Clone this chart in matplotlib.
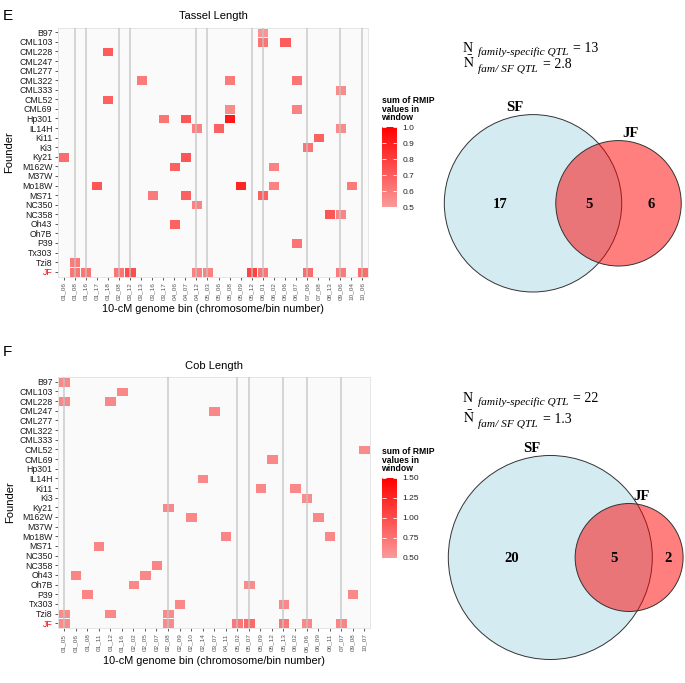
import numpy as np
import matplotlib
matplotlib.use("Agg")
import matplotlib.pyplot as plt
from matplotlib.colors import LinearSegmentedColormap, to_rgba
from matplotlib.patches import Circle

plt.rcParams['font.family'] = ['Liberation Sans', 'DejaVu Sans']

founders = ["B97", "CML103", "CML228", "CML247", "CML277", "CML322", "CML333",
            "CML52", "CML69", "Hp301", "IL14H", "Ki11", "Ki3", "Ky21", "M162W",
            "M37W", "Mo18W", "MS71", "NC350", "NC358", "Oh43", "Oh7B", "P39",
            "Tx303", "Tzi8", "JF"]

# Tassel length (panel E)
tassel_bins = ["01_06", "01_08", "01_16", "01_17", "01_18", "02_08", "03_12",
               "03_13", "03_16", "03_17", "04_06", "04_07", "04_12", "05_03",
               "05_06", "05_08", "05_09", "05_12", "06_01", "06_02", "06_06",
               "06_07", "07_06", "07_08", "08_13", "09_06", "10_04", "10_06"]
tassel_hits = [
    ("B97", "06_01", 0.52), ("CML103", "06_01", 0.62), ("CML103", "06_06", 0.70),
    ("CML228", "01_18", 0.70), ("CML322", "03_13", 0.60), ("CML322", "05_08", 0.60),
    ("CML322", "06_07", 0.62), ("CML333", "09_06", 0.55), ("CML52", "01_18", 0.68),
    ("CML69", "05_08", 0.55), ("CML69", "06_07", 0.58), ("Hp301", "03_17", 0.62),
    ("Hp301", "04_07", 0.72), ("Hp301", "05_08", 0.92), ("IL14H", "04_12", 0.58),
    ("IL14H", "05_06", 0.68), ("IL14H", "09_06", 0.55), ("Ki11", "07_08", 0.68),
    ("Ki3", "07_06", 0.62), ("Ky21", "01_06", 0.65), ("Ky21", "04_07", 0.72),
    ("M162W", "04_06", 0.68), ("M162W", "06_02", 0.58), ("Mo18W", "01_17", 0.72),
    ("Mo18W", "05_09", 0.88), ("Mo18W", "06_02", 0.58), ("Mo18W", "10_04", 0.60),
    ("MS71", "03_16", 0.60), ("MS71", "04_07", 0.68), ("MS71", "06_01", 0.68),
    ("NC350", "04_12", 0.58), ("NC358", "08_13", 0.72), ("NC358", "09_06", 0.57),
    ("Oh43", "04_06", 0.68), ("P39", "06_07", 0.62), ("Tzi8", "01_08", 0.60),
    ("JF", "01_08", 0.62), ("JF", "01_16", 0.62), ("JF", "02_08", 0.62),
    ("JF", "03_12", 0.75), ("JF", "04_12", 0.58), ("JF", "05_03", 0.58),
    ("JF", "05_12", 0.78), ("JF", "06_01", 0.62), ("JF", "07_06", 0.65),
    ("JF", "09_06", 0.60), ("JF", "10_06", 0.65)]
tassel_venn = [17, 5, 6]          # SF only, shared, JF only
tassel_n_specific = "13"
tassel_n_mean = "2.8"

# Cob length (panel F)
cob_bins = ["01_05", "01_06", "01_08", "01_11", "01_12", "01_16", "02_02", "02_05",
            "02_07", "02_08", "02_09", "02_10", "02_14", "03_07", "04_11", "05_02",
            "05_07", "05_09", "05_12", "05_13", "06_02", "06_06", "06_09", "06_11",
            "07_07", "09_08", "10_07"]
cob_hits = [
    ("B97", "01_05", 0.62), ("CML103", "01_16", 0.62), ("CML228", "01_05", 0.62),
    ("CML228", "01_12", 0.62), ("CML247", "03_07", 0.62), ("CML52", "10_07", 0.60),
    ("CML69", "05_12", 0.62), ("IL14H", "02_14", 0.62), ("Ki11", "05_09", 0.62),
    ("Ki11", "06_02", 0.62), ("Ki3", "06_06", 0.60), ("Ky21", "02_08", 0.62),
    ("M162W", "02_10", 0.62), ("M162W", "06_09", 0.62), ("Mo18W", "04_11", 0.64),
    ("Mo18W", "06_11", 0.62), ("MS71", "01_11", 0.64), ("NC358", "02_07", 0.64),
    ("Oh43", "01_06", 0.64), ("Oh43", "02_05", 0.62), ("Oh7B", "02_02", 0.62),
    ("Oh7B", "05_07", 0.60), ("P39", "01_08", 0.64), ("P39", "09_08", 0.62),
    ("Tx303", "02_09", 0.62), ("Tx303", "05_13", 0.62), ("Tzi8", "01_05", 0.60),
    ("Tzi8", "01_12", 0.62), ("Tzi8", "02_08", 0.60),
    ("JF", "01_05", 0.60), ("JF", "02_08", 0.60), ("JF", "05_02", 0.72),
    ("JF", "05_07", 0.82), ("JF", "05_13", 0.72), ("JF", "06_06", 0.62),
    ("JF", "07_07", 0.64)]
cob_venn = [20, 5, 2]
cob_n_specific = "22"
cob_n_mean = "1.3"

cmap = LinearSegmentedColormap.from_list("rmip", ["#FA9A9A", "#FF0000"])
W, H = 685, 683


def draw_heatmap(ax, cax, bins, hits, vmin, vmax, cticks, cfmt, title):
    grid = np.full((len(founders), len(bins)), np.nan)
    for f, b, v in hits:
        grid[founders.index(f), bins.index(b)] = v
    ax.set_facecolor("#FAFAFA")
    xe = np.arange(len(bins) + 1) - 0.5
    ye = np.arange(len(founders) + 1) - 0.5
    mesh = ax.pcolormesh(xe, ye, np.ma.masked_invalid(grid), cmap=cmap,
                         vmin=vmin, vmax=vmax, edgecolors="#FAFAFA", linewidth=0.5)
    # grey guide lines at bins with a joint-family QTL
    for f, b, v in hits:
        if f == "JF":
            ax.axvline(bins.index(b), color="#C4C4C4", lw=1.3, alpha=0.75, zorder=3)
    ax.set_xlim(-0.5, len(bins) - 0.5)
    ax.set_ylim(len(founders) - 0.5, -0.5)
    ax.set_xticks(range(len(bins)))
    ax.set_xticklabels(bins, rotation=90, fontsize=4.6, color="#555555")
    ax.set_yticks(range(len(founders)))
    ax.set_yticklabels(founders, fontsize=6.3, color="#1a1a1a")
    ax.get_yticklabels()[-1].set_color("#E8141B")
    ax.tick_params(length=2.5, width=0.6, color="#444444", pad=1.5)
    for s in ax.spines.values():
        s.set_color("#E2E2E2")
        s.set_linewidth(0.6)
    ax.set_title(title, fontsize=8, pad=6)
    ax.set_xlabel("10-cM genome bin (chromosome/bin number)", fontsize=7.8)
    ax.set_ylabel("Founder", fontsize=8)
    ax.yaxis.set_label_coords(-0.14, 0.5)
    ax.xaxis.set_label_coords(0.5, -0.112)

    cb = plt.colorbar(mesh, cax=cax, ticks=cticks, format=cfmt)
    cb.outline.set_visible(False)
    cax.tick_params(direction="in", color="white", length=3, width=0.6,
                    labelsize=6, left=True, right=True, labelcolor="#222222", pad=4)
    return mesh


def overlap_area(d, r1, r2):
    a1 = np.arccos((d * d + r1 * r1 - r2 * r2) / (2 * d * r1))
    a2 = np.arccos((d * d + r2 * r2 - r1 * r1) / (2 * d * r2))
    k = np.sqrt((-d + r1 + r2) * (d + r1 - r2) * (d - r1 + r2) * (d + r1 + r2))
    return r1 * r1 * a1 + r2 * r2 * a2 - 0.5 * k


def draw_venn(ax, cx, cy, scale, counts, n_spec, n_mean, ty1, ty2):
    sf_only, shared, jf_only = counts
    r1 = scale * np.sqrt(sf_only + shared)
    r2 = scale * np.sqrt(jf_only + shared)
    target = np.pi * scale ** 2 * shared
    lo, hi = abs(r1 - r2) + 1e-6, r1 + r2 - 1e-6
    for _ in range(80):
        mid = (lo + hi) / 2
        if overlap_area(mid, r1, r2) > target:
            lo = mid
        else:
            hi = mid
    d = (lo + hi) / 2
    jx = cx + d
    ax.add_patch(Circle((cx, cy), r1, facecolor=to_rgba("lightblue", 0.5),
                        edgecolor="#333333", lw=0.7))
    ax.add_patch(Circle((jx, cy), r2, facecolor=to_rgba("red", 0.5),
                        edgecolor="#333333", lw=0.7))
    serif = dict(family="Liberation Serif", fontweight="bold", fontsize=10.5,
                 ha="center", va="center")
    ax.text(cx - 18, cy - r1 - 7, "SF", **serif)
    ax.text(jx + 12, cy - r2 - 7, "JF", **serif)
    ax.text(((cx - r1) + (jx - r2)) / 2, cy + 1, str(sf_only), **serif)
    ax.text(((jx - r2) + (cx + r1)) / 2, cy + 1, str(shared), **serif)
    ax.text(((cx + r1) + (jx + r2)) / 2, cy + 1, str(jf_only), **serif)

    big = dict(family="Liberation Serif", fontsize=10, va="baseline")
    small = dict(family="Liberation Serif", fontsize=8.2, style="italic", va="baseline")
    ax.text(463, ty1, "N", **big)
    ax.text(478, ty1 + 3.5, "family-specific QTL", **small)
    ax.text(573, ty1, "= " + n_spec, **big)
    ax.text(463, ty2, r"$\bar{\mathrm{N}}$", math_fontfamily="stix", **big)
    ax.text(478, ty2 + 3.5, "fam/ SF QTL", **small)
    ax.text(543, ty2, "= " + n_mean, **big)


fig = plt.figure(figsize=(6.85, 6.83), dpi=100)


def px_axes(x0, y0, x1, y1):
    return fig.add_axes([x0 / W, 1 - y1 / H, (x1 - x0) / W, (y1 - y0) / H])


ax_e = px_axes(58, 27.5, 368, 276.5)
cax_e = px_axes(382, 127, 397, 207)
ax_f = px_axes(58.3, 377, 370, 628)
cax_f = px_axes(382, 478, 397, 558)

draw_heatmap(ax_e, cax_e, tassel_bins, tassel_hits, 0.5, 1.0,
             [0.5, 0.6, 0.7, 0.8, 0.9, 1.0], "%.1f", "Tassel Length")
draw_heatmap(ax_f, cax_f, cob_bins, cob_hits, 0.5, 1.5,
             [0.5, 0.75, 1.0, 1.25, 1.5], "%.2f", "Cob Length")

cb_title = "sum of RMIP\nvalues in\nwindow"
fig.text(381.5 / W, 1 - 96 / H, cb_title, fontsize=6.2, fontweight="bold",
         va="top", ha="left", linespacing=0.95)
fig.text(381.5 / W, 1 - 447 / H, cb_title, fontsize=6.2, fontweight="bold",
         va="top", ha="left", linespacing=0.95)

fig.text(3 / W, 1 - 16 / H, "E", fontsize=11, va="center", ha="left")
fig.text(3 / W, 1 - 352 / H, "F", fontsize=11, va="center", ha="left")

ax_v = fig.add_axes([0, 0, 1, 1])
ax_v.set_xlim(0, W)
ax_v.set_ylim(H, 0)
ax_v.axis("off")
ax_v.patch.set_alpha(0)

draw_venn(ax_v, 533, 203.3, 88.7 / np.sqrt(22), tassel_venn,
          tassel_n_specific, tassel_n_mean, 51.5, 68)
draw_venn(ax_v, 550.3, 557.5, 102 / np.sqrt(25), cob_venn,
          cob_n_specific, cob_n_mean, 401.7, 423.3)

fig.savefig("out.png", dpi=100)
